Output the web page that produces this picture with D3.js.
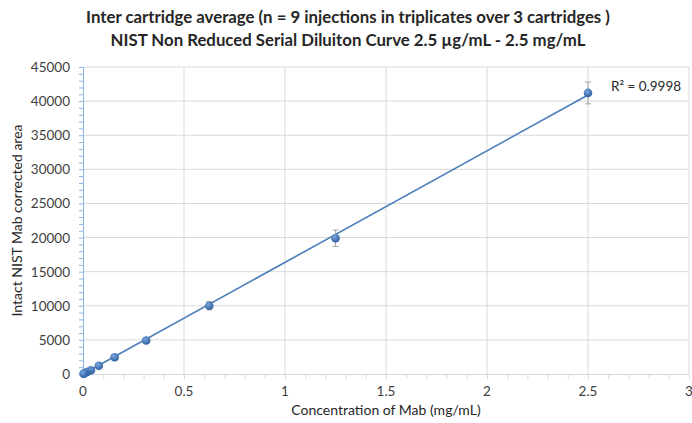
<!DOCTYPE html>
<html>
<head>
<meta charset="utf-8">
<script src="https://cdn.jsdelivr.net/npm/d3@7"></script>
<style>
  body { margin: 0; background: #fff; }
  text { font-family: Lato, "Open Sans", sans-serif; }
</style>
</head>
<body>
<div id="chart"></div>
<script>
// concentration (mg/mL), serial dilution 2.5 mg/mL down to 2.5 ug/mL
const conc = [2.5, 1.25, 0.625, 0.3125, 0.15625, 0.078125, 0.0390625, 0.01953, 0.00977, 0.00488, 0.00244];
const area = [41200, 19900, 10000, 4900, 2450, 1200, 560, 300, 150, 75, 40];
const errs = [1600, 1200, 600, 250, 150, 80, 50, 30, 20, 10, 5];
const xTicks = [0, 0.5, 1, 1.5, 2, 2.5, 3];
const yTicks = [0, 5000, 10000, 15000, 20000, 25000, 30000, 35000, 40000, 45000];
const titleLines = ["Inter cartridge average (n = 9 injections in triplicates over 3 cartridges )",
                    "NIST Non Reduced Serial Diluiton Curve 2.5 \u00b5g/mL - 2.5 mg/mL"];

const width = 692;
const height = 423;
const margin = {left: 83, right: 3, top: 67, bottom: 49};

const svg = d3.select("#chart").append("svg")
  .attr("width", width)
  .attr("height", height);

const x = d3.scaleLinear().domain([0, 3]).range([margin.left, width - margin.right]);
const y = d3.scaleLinear().domain([0, 45000]).range([height - margin.bottom, margin.top]);

// grid
svg.append("g").selectAll("line")
  .data(yTicks.slice(1))
  .enter().append("line")
  .attr("x1", x(0)).attr("x2", x(3))
  .attr("y1", d => y(d)).attr("y2", d => y(d))
  .attr("stroke", "#d9d9d9");
svg.append("g").selectAll("line")
  .data(xTicks.slice(1))
  .enter().append("line")
  .attr("x1", d => x(d)).attr("x2", d => x(d))
  .attr("y1", y(0)).attr("y2", y(45000))
  .attr("stroke", "#d9d9d9");

// x axis
const xAxis = svg.append("g")
  .attr("transform", "translate(0," + y(0) + ")")
  .call(d3.axisBottom(x).tickValues(d3.range(0, 3.01, 0.1)).tickSize(5).tickFormat(""));
xAxis.select(".domain").attr("stroke", "#d9d9d9");
xAxis.selectAll("line").attr("stroke", "#d9d9d9");
svg.append("g").selectAll("text")
  .data(xTicks)
  .enter().append("text")
  .attr("x", d => x(d)).attr("y", y(0) + 22)
  .attr("text-anchor", "middle")
  .attr("font-size", 13.5).attr("fill", "#404040")
  .text(d => d);

// y axis
const yAxis = svg.append("g")
  .attr("transform", "translate(" + x(0) + ",0)")
  .call(d3.axisLeft(y).tickValues(d3.range(0, 45001, 1000)).tickSize(4).tickFormat(""));
yAxis.select(".domain").attr("stroke", "#8eb4e3");
yAxis.selectAll("line").attr("stroke", "#8eb4e3");
svg.append("g").selectAll("text")
  .data(yTicks)
  .enter().append("text")
  .attr("x", x(0) - 13).attr("y", d => y(d) + 5)
  .attr("text-anchor", "end")
  .attr("font-size", 13.5).attr("fill", "#404040")
  .text(d => d);

// linear trend line
const reg = d3.zip(conc, area);
const mx = d3.mean(conc), my = d3.mean(area);
const slope = d3.sum(reg, d => (d[0] - mx) * (d[1] - my)) / d3.sum(reg, d => (d[0] - mx) ** 2);
const icpt = my - slope * mx;
svg.append("line")
  .attr("x1", x(0)).attr("y1", y(Math.max(0, icpt)))
  .attr("x2", x(2.5)).attr("y2", y(icpt + slope * 2.5))
  .attr("stroke", "#4a7ebb").attr("stroke-width", 1.6);

// error bars
const eb = svg.append("g").attr("stroke", "#a6a6a6").attr("stroke-width", 1);
conc.forEach((c, i) => {
  eb.append("line").attr("x1", x(c)).attr("x2", x(c))
    .attr("y1", y(area[i] - errs[i])).attr("y2", y(area[i] + errs[i]));
  [area[i] - errs[i], area[i] + errs[i]].forEach(v => {
    eb.append("line").attr("x1", x(c) - 3).attr("x2", x(c) + 3)
      .attr("y1", y(v)).attr("y2", y(v));
  });
});

// points
const grad = svg.append("defs").append("radialGradient")
  .attr("id", "pt").attr("cx", "40%").attr("cy", "35%").attr("r", "65%");
grad.append("stop").attr("offset", "0%").attr("stop-color", "#7aa6e0");
grad.append("stop").attr("offset", "100%").attr("stop-color", "#2f5f9e");
svg.append("g").selectAll("circle")
  .data(conc)
  .enter().append("circle")
  .attr("cx", d => x(d))
  .attr("cy", (d, i) => y(area[i]))
  .attr("r", 4.3)
  .attr("fill", "url(#pt)");

// R squared
svg.append("text")
  .attr("x", 611).attr("y", 91)
  .attr("font-size", 13.5).attr("fill", "#262626")
  .text("R\u00b2 = 0.9998");

// titles
svg.append("g").selectAll("text")
  .data(titleLines)
  .enter().append("text")
  .attr("x", 348).attr("y", (d, i) => 23 + i * 23)
  .attr("text-anchor", "middle")
  .attr("font-size", 16.8).attr("font-weight", "bold").attr("fill", "#262626")
  .text(d => d);

svg.append("text")
  .attr("x", x(1.5)).attr("y", 415)
  .attr("text-anchor", "middle")
  .attr("font-size", 14).attr("fill", "#262626")
  .text("Concentration of Mab (mg/mL)");

svg.append("text")
  .attr("transform", "translate(22," + y(22500) + ") rotate(-90)")
  .attr("text-anchor", "middle")
  .attr("font-size", 14).attr("fill", "#262626")
  .text("Intact NIST Mab corrected area");
</script>
</body>
</html>
